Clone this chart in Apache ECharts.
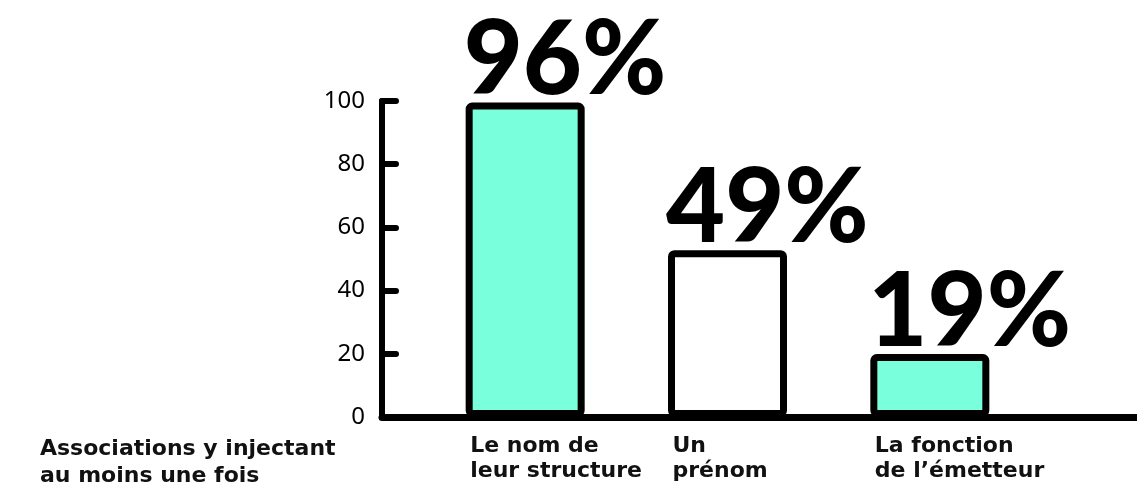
<!DOCTYPE html>
<html>
<head>
    <meta charset="utf-8">
    <title>Associations - bar chart</title>
    <script src="https://cdn.jsdelivr.net/npm/echarts@6/dist/echarts.min.js"></script>
    <style>
        html, body { margin: 0; padding: 0; background: #fff; }
    </style>
</head>

<body>
<div id="bar-chart" style="width: 1137px; height: 487px;"></div>
</body>

<script>
    // données
    var categories = ['Le nom de\nleur structure', 'Un\nprénom', 'La fonction\nde l\u2019émetteur'];
    var barHeights = [99.5, 52.8, 19.9];   // hauteur des barres sur l'axe 0-100
    var percents = [96, 49, 19];           // valeurs affichées au-dessus
    var barColors = ['#7affdc', '#ffffff', '#7affdc'];
    var yTicks = [0, 20, 40, 60, 80, 100];
    var rowTitle = 'Associations y injectant\nau moins une fois';

    var barChart = echarts.init(document.getElementById('bar-chart'));

    var barData = barHeights.map(function (v, i) {
        return {
            value: v,
            itemStyle: { color: barColors[i] },
            label: { formatter: percents[i] + '%' }
        };
    });

    var option = {
        animation: false,
        backgroundColor: '#fff',
        title: {
            text: rowTitle,
            left: 35,
            top: 431,
            textStyle: {
                fontFamily: 'DejaVu Sans',
                fontWeight: 'bold',
                fontSize: 22,
                lineHeight: 27,
                color: '#111'
            }
        },
        grid: [
            // bandes des barres
            { left: 424, right: 106, top: 101, bottom: 70 },
            // axes (ligne de base + axe vertical)
            { left: 382, right: 0, top: 101, bottom: 70 }
        ],
        xAxis: [
            {
                type: 'category',
                gridIndex: 0,
                data: categories,
                axisLine: { show: false },
                axisTick: { show: false },
                axisLabel: {
                    interval: 0,
                    align: 'left',
                    padding: [0, 0, 0, -55],
                    margin: 17,
                    fontFamily: 'DejaVu Sans',
                    fontWeight: 'bold',
                    fontSize: 22,
                    lineHeight: 25,
                    color: '#111'
                }
            },
            {
                type: 'value',
                gridIndex: 1,
                min: 0,
                max: 1,
                axisLine: { show: true, lineStyle: { color: '#000', width: 7, cap: 'round' } },
                axisTick: { show: false },
                axisLabel: { show: false },
                splitLine: { show: false }
            }
        ],
        yAxis: [
            {
                type: 'value',
                gridIndex: 0,
                min: 0,
                max: 100,
                show: false
            },
            {
                type: 'value',
                gridIndex: 1,
                min: yTicks[0],
                max: yTicks[yTicks.length - 1],
                interval: 20,
                axisLine: { show: true, lineStyle: { color: '#000', width: 6, cap: 'round' } },
                axisTick: { show: true, inside: true, length: 14, lineStyle: { color: '#000', width: 6, cap: 'round' } },
                axisLabel: {
                    margin: 17,
                    fontFamily: 'Noto Sans',
                    fontSize: 24,
                    color: '#000'
                },
                splitLine: { show: false }
            }
        ],
        series: [
            {
                type: 'bar',
                xAxisIndex: 0,
                yAxisIndex: 0,
                data: barData,
                barWidth: 119,
                itemStyle: {
                    borderColor: '#000',
                    borderWidth: 7,
                    borderRadius: 3
                },
                label: {
                    show: true,
                    position: [-2, -1],
                    align: 'left',
                    verticalAlign: 'bottom',
                    fontFamily: 'Lato',
                    fontWeight: 900,
                    fontSize: 102,
                    lineHeight: 80,
                    color: '#000'
                }
            }
        ]
    };

    barChart.setOption(option);
</script>
</html>
